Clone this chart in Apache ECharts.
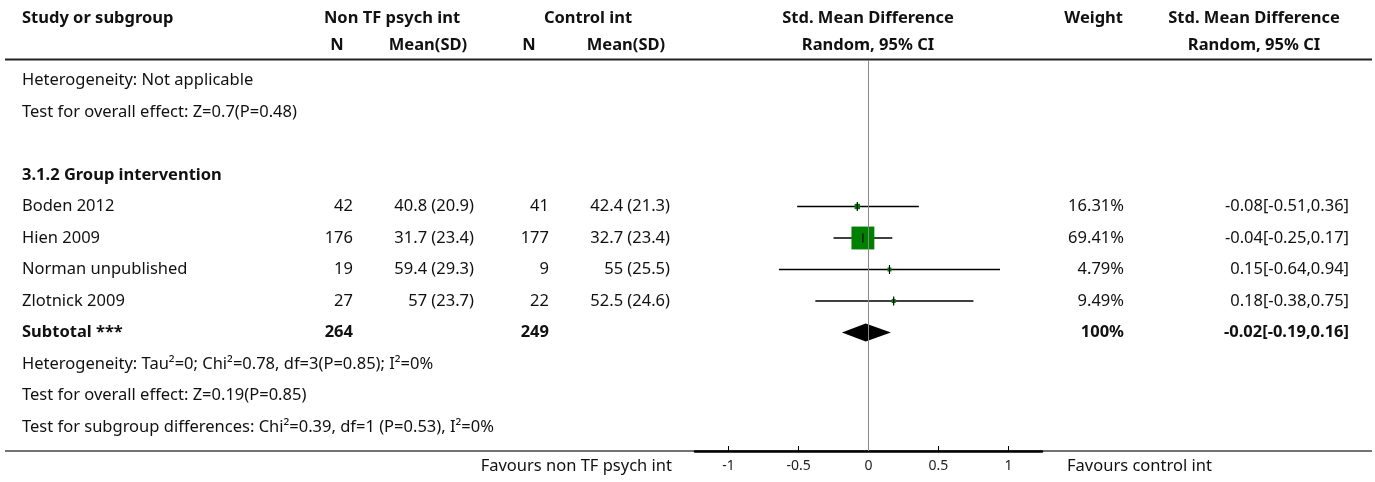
<!DOCTYPE html>
<html><head><meta charset="utf-8">
<script src="https://cdn.jsdelivr.net/npm/echarts@6/dist/echarts.min.js"></script>
<style>html,body{margin:0;padding:0;background:#fff}#c{width:1375px;height:482px}</style>
</head><body><div id="c"></div>
<script>
// ---------- data ----------
const studies = ['Boden 2012', 'Hien 2009', 'Norman unpublished', 'Zlotnick 2009'];
const nTreat = [42, 176, 19, 27];
const meanTreat = [40.8, 31.7, 59.4, 57];
const sdTreat = [20.9, 23.4, 29.3, 23.7];
const nCtrl = [41, 177, 9, 22];
const meanCtrl = [42.4, 32.7, 55, 52.5];
const sdCtrl = [21.3, 23.4, 25.5, 24.6];
const weights = [16.31, 69.41, 4.79, 9.49];
const smd = [-0.08, -0.04, 0.15, 0.18];
const ciLow = [-0.51, -0.25, -0.64, -0.38];
const ciHigh = [0.36, 0.17, 0.94, 0.75];

const subtotalLabel = 'Subtotal ***';
const subtotalNTreat = 264;
const subtotalNCtrl = 249;
const subtotalWeight = 100;
const subtotalSmd = -0.02;
const subtotalLow = -0.19;
const subtotalHigh = 0.16;

const topNotes = ['Heterogeneity: Not applicable', 'Test for overall effect: Z=0.7(P=0.48)'];
const groupTitle = '3.1.2 Group intervention';
const bottomNotes = [
  'Heterogeneity: Tau\u00b2=0; Chi\u00b2=0.78, df=3(P=0.85); I\u00b2=0%',
  'Test for overall effect: Z=0.19(P=0.85)',
  'Test for subgroup differences: Chi\u00b2=0.39, df=1 (P=0.53), I\u00b2=0%'
];
const tickValues = [-1, -0.5, 0, 0.5, 1];
const xRange = [-1.24, 1.24];
const favoursLeft = 'Favours non TF psych int';
const favoursRight = 'Favours control int';

// ---------- layout ----------
const FONT = '"Noto Sans"';
const FS = 16.5;
const TXT = '#111';
const colX = { study: 22, nT: 353, mT: 474, nC: 549, mC: 670, w: 1124, smd: 1349 };
const colAlign = { study: 'left', nT: 'right', mT: 'right', nC: 'right', mC: 'right', w: 'right', smd: 'right' };

const firstStudyRow = 4;
const subtotalRow = firstStudyRow + studies.length;
const fmt2 = v => v.toFixed(2);
const ciText = (e, l, h) => fmt2(e) + '[' + fmt2(l) + ',' + fmt2(h) + ']';

const cells = [];
topNotes.forEach((t, i) => cells.push({ row: i, col: 'study', text: t }));
cells.push({ row: 3, col: 'study', text: groupTitle, bold: true });
studies.forEach((s, i) => {
  const r = firstStudyRow + i;
  cells.push({ row: r, col: 'study', text: s });
  cells.push({ row: r, col: 'nT', text: String(nTreat[i]) });
  cells.push({ row: r, col: 'mT', text: meanTreat[i] + ' (' + sdTreat[i] + ')' });
  cells.push({ row: r, col: 'nC', text: String(nCtrl[i]) });
  cells.push({ row: r, col: 'mC', text: meanCtrl[i] + ' (' + sdCtrl[i] + ')' });
  cells.push({ row: r, col: 'w', text: fmt2(weights[i]) + '%' });
  cells.push({ row: r, col: 'smd', text: ciText(smd[i], ciLow[i], ciHigh[i]) });
});
cells.push({ row: subtotalRow, col: 'study', text: subtotalLabel, bold: true });
cells.push({ row: subtotalRow, col: 'nT', text: String(subtotalNTreat), bold: true });
cells.push({ row: subtotalRow, col: 'nC', text: String(subtotalNCtrl), bold: true });
cells.push({ row: subtotalRow, col: 'w', text: subtotalWeight + '%', bold: true });
cells.push({ row: subtotalRow, col: 'smd', text: ciText(subtotalSmd, subtotalLow, subtotalHigh), bold: true });
bottomNotes.forEach((t, i) => cells.push({ row: subtotalRow + 1 + i, col: 'study', text: t }));

const studyData = studies.map((s, i) => [smd[i], firstStudyRow + i, ciLow[i], ciHigh[i], weights[i]]);

function txt(x, y, text, align, bold, size, color) {
  return {
    type: 'text', x: x, y: y, silent: true,
    style: {
      text: text, fill: color || TXT,
      font: (bold ? 'bold ' : '') + (size || FS) + 'px ' + FONT,
      align: align, textAlign: align, verticalAlign: 'middle', textVerticalAlign: 'middle'
    }
  };
}
function hline(x1, x2, y, w, c) {
  return { type: 'line', silent: true, shape: { x1: x1, y1: y, x2: x2, y2: y }, style: { stroke: c, lineWidth: w } };
}

const H1 = 18, H2 = 45, FY = 466;
const graphics = [
  txt(22, H1, 'Study or subgroup', 'left', true),
  txt(392, H1, 'Non TF psych int', 'center', true),
  txt(337, H2, 'N', 'center', true),
  txt(428, H2, 'Mean(SD)', 'center', true),
  txt(588, H1, 'Control int', 'center', true),
  txt(529, H2, 'N', 'center', true),
  txt(626, H2, 'Mean(SD)', 'center', true),
  txt(868, H1, 'Std. Mean Difference', 'center', true),
  txt(868, H2, 'Random, 95% CI', 'center', true),
  txt(1123, H1, 'Weight', 'right', true),
  txt(1254, H1, 'Std. Mean Difference', 'center', true),
  txt(1254, H2, 'Random, 95% CI', 'center', true),
  hline(5, 1372, 59.5, 2, '#222'),
  hline(5, 1372, 451, 1.5, '#444'),
  txt(672, FY, favoursLeft, 'right', false),
  txt(1067, FY, favoursRight, 'left', false)
];

const chart = echarts.init(document.getElementById('c'));
chart.setOption({
  animation: false,
  backgroundColor: '#fff',
  grid: { left: 695, right: 333, top: 60, bottom: 31 },
  xAxis: {
    type: 'value', min: xRange[0], max: xRange[1],
    axisLine: { show: true, onZero: false, lineStyle: { color: '#000', width: 2.5 } },
    axisTick: { show: true, inside: true, length: 5, customValues: tickValues, lineStyle: { color: '#000', width: 1 } },
    axisLabel: { show: true, customValues: tickValues, margin: 8, fontSize: 14, color: '#222', fontFamily: 'Noto Sans' },
    splitLine: { show: false }
  },
  yAxis: { type: 'value', inverse: true, min: -0.651, max: 11.762, show: false },
  graphic: graphics,
  series: [
    {
      type: 'custom', clip: false, z: 3,
      data: studyData,
      renderItem: function (params, api) {
        const r = api.value(1);
        const est = api.coord([api.value(0), r]);
        const lo = api.coord([api.value(2), r]);
        const hi = api.coord([api.value(3), r]);
        const s = Math.max(4, api.value(4) * 0.33);
        return {
          type: 'group', children: [
            { type: 'line', shape: { x1: lo[0], y1: lo[1], x2: hi[0], y2: hi[1] }, style: { stroke: '#000', lineWidth: 1.6 } },
            { type: 'rect', shape: { x: est[0] - s / 2, y: est[1] - s / 2, width: s, height: s }, style: { fill: '#008000' } },
            { type: 'line', shape: { x1: est[0], y1: est[1] - 4.5, x2: est[0], y2: est[1] + 4.5 }, style: { stroke: '#000', lineWidth: 1.2 } }
          ]
        };
      },
      markLine: {
        silent: true, symbol: ['none', 'none'], label: { show: false },
        lineStyle: { color: '#888', width: 1, type: 'solid' },
        data: [{ xAxis: 0 }]
      }
    },
    {
      type: 'custom', clip: false, z: 4,
      data: [[subtotalSmd, subtotalRow, subtotalLow, subtotalHigh]],
      renderItem: function (params, api) {
        const r = api.value(1);
        const est = api.coord([api.value(0), r]);
        const lo = api.coord([api.value(2), r]);
        const hi = api.coord([api.value(3), r]);
        const h = 9;
        return {
          type: 'polygon',
          shape: { points: [[lo[0], lo[1]], [est[0], est[1] - h], [hi[0], hi[1]], [est[0], est[1] + h]] },
          style: { fill: '#000' }
        };
      }
    },
    {
      type: 'custom', clip: false, z: 5, silent: true,
      data: cells.map(c => [0, c.row]),
      renderItem: function (params, api) {
        const c = cells[params.dataIndex];
        const p = api.coord([0, api.value(1)]);
        const a = colAlign[c.col];
        return {
          type: 'text', x: colX[c.col], y: p[1],
          style: {
            text: c.text, fill: TXT,
            font: (c.bold ? 'bold ' : '') + FS + 'px ' + FONT,
            align: a, textAlign: a, verticalAlign: 'middle', textVerticalAlign: 'middle'
          }
        };
      }
    }
  ]
});
</script>
</body></html>
